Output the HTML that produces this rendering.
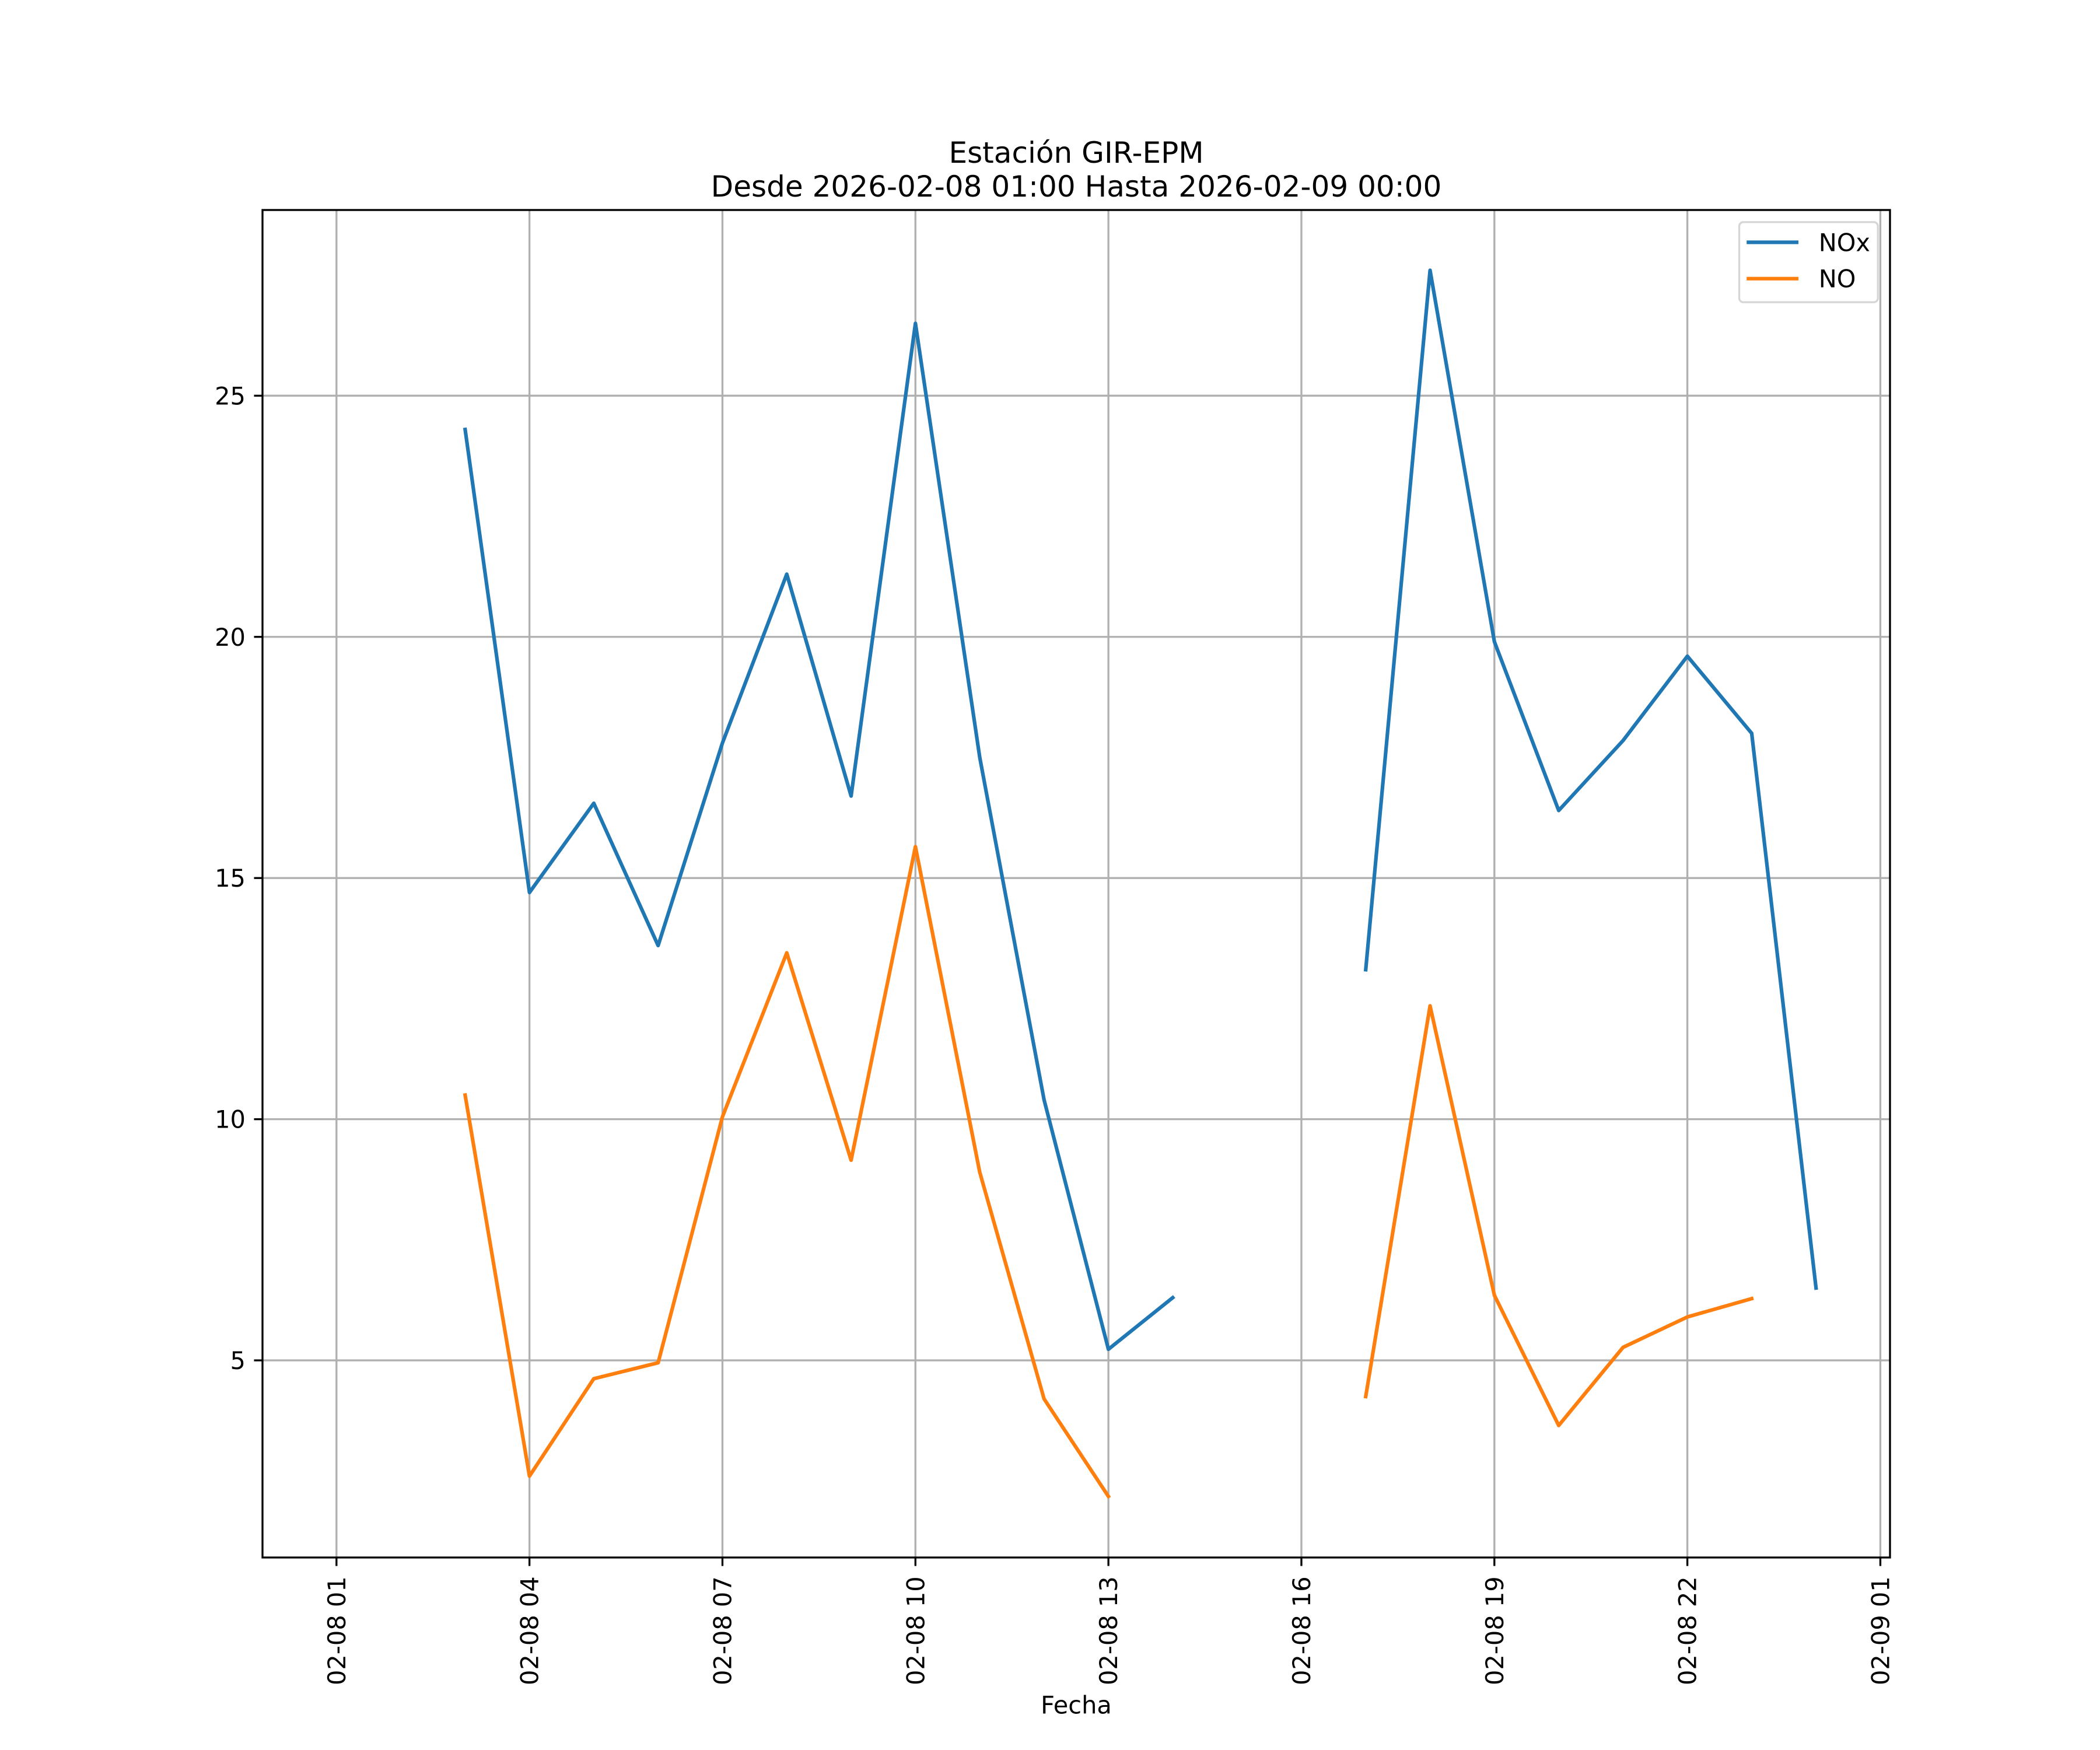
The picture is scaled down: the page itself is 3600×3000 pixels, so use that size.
<!DOCTYPE html>
<html><head><meta charset="utf-8"><style>
html,body{margin:0;padding:0;background:#fff;}
svg{display:block;font-family:"DejaVu Sans","Liberation Sans",sans-serif;}
</style></head><body>
<svg id="chart" width="3600" height="3000" viewBox="0 0 1560 1300" xmlns="http://www.w3.org/2000/svg">
<rect width="1560" height="1300" fill="#fff"/>
<g id="grid"></g>
<g id="series"></g>
<rect x="195" y="156" width="1209" height="1001" fill="none" stroke="#000" stroke-width="1.44"/>
<g id="ticks"></g>
<text x="799.5" y="121" font-size="21.7" text-anchor="middle">Estación GIR-EPM</text>
<text x="799.5" y="146" font-size="21.7" text-anchor="middle">Desde 2026-02-08 01:00 Hasta 2026-02-09 00:00</text>
<text x="799.5" y="1273" font-size="18" text-anchor="middle">Fecha</text>
<g>
<rect x="1292" y="165" width="103" height="59.5" rx="3" fill="#fff" fill-opacity="0.8" stroke="#d6d6d6" stroke-width="1.44"/>
<line x1="1297.5" x2="1336" y1="180" y2="180" stroke="#1f77b4" stroke-width="2.7"/>
<text x="1351" y="186.5" font-size="18">NOx</text>
<line x1="1297.5" x2="1336" y1="207" y2="207" stroke="#ff7f0e" stroke-width="2.7"/>
<text x="1351" y="213.5" font-size="18">NO</text>
</g>
</svg>
<script>
const hours = [1,2,3,4,5,6,7,8,9,10,11,12,13,14,15,16,17,18,19,20,21,22,23,24];
const noxValues = [null,null,24.3,14.7,16.55,13.6,17.8,21.3,16.7,26.5,17.5,10.4,5.23,6.3,null,null,13.1,27.6,19.9,16.4,17.85,19.6,18.0,6.5];
const noValues = [null,null,10.5,2.6,4.62,4.95,10.05,13.45,9.15,15.65,8.9,4.2,2.18,null,null,null,4.25,12.35,6.35,3.65,5.27,5.9,6.28,null];
const xTickHours = [1,4,7,10,13,16,19,22,25];
const xTickLabels = ["02-08 01","02-08 04","02-08 07","02-08 10","02-08 13","02-08 16","02-08 19","02-08 22","02-09 01"];
const yTicks = [5,10,15,20,25];

const L=195,R=1404,T=156,B=1157;
const xMin=-0.15,xMax=25.15,yMin=0.913,yMax=28.85;
function xs(h){return L+(h-xMin)/(xMax-xMin)*(R-L);}
function ys(v){return B-(v-yMin)/(yMax-yMin)*(B-T);}
const NS="http://www.w3.org/2000/svg";
function mk(tag,attrs,parent){const e=document.createElementNS(NS,tag);for(const k in attrs)e.setAttribute(k,attrs[k]);parent.appendChild(e);return e;}
const grid=document.getElementById('grid'),ticks=document.getElementById('ticks'),series=document.getElementById('series');

xTickHours.forEach((h,i)=>{
  const x=xs(h);
  const g=mk('line',{x1:x,x2:x,y1:T,y2:B,stroke:'#b0b0b0','stroke-width':1.44},grid);
  
  
  const t=mk('line',{x1:x,x2:x,y1:B,y2:B+6.3,stroke:'#000','stroke-width':1.44},ticks);
  
  
  const lb=mk('text',{x:0,y:0,'font-size':18,'text-anchor':'end',transform:`translate(${x+6.5},1171) rotate(-90)`},ticks);
  lb.textContent=xTickLabels[i];
  
  
});
yTicks.forEach(v=>{
  const y=ys(v);
  const g=mk('line',{x1:L,x2:R,y1:y,y2:y,stroke:'#b0b0b0','stroke-width':1.44},grid);
  
  
  const t=mk('line',{x1:L-6.3,x2:L,y1:y,y2:y,stroke:'#000','stroke-width':1.44},ticks);
  
  
  const lb=mk('text',{x:L-12.6,y:y+6.5,'font-size':18,'text-anchor':'end'},ticks);
  lb.textContent=String(v);
  
  
});
function drawSeries(vals,color,name){
  let d='',pen=false;
  vals.forEach((v,i)=>{
    if(v===null){pen=false;return;}
    d+=(pen?'L':'M')+xs(hours[i]).toFixed(2)+' '+ys(v).toFixed(2)+' ';
    pen=true;
  });
  const p=mk('path',{d:d,fill:'none',stroke:color,'stroke-width':2.7,'stroke-linejoin':'round','stroke-linecap':'square'},series);
  
  
}
drawSeries(noxValues,'#1f77b4','nox-line');
drawSeries(noValues,'#ff7f0e','no-line');
</script>
</body></html>
